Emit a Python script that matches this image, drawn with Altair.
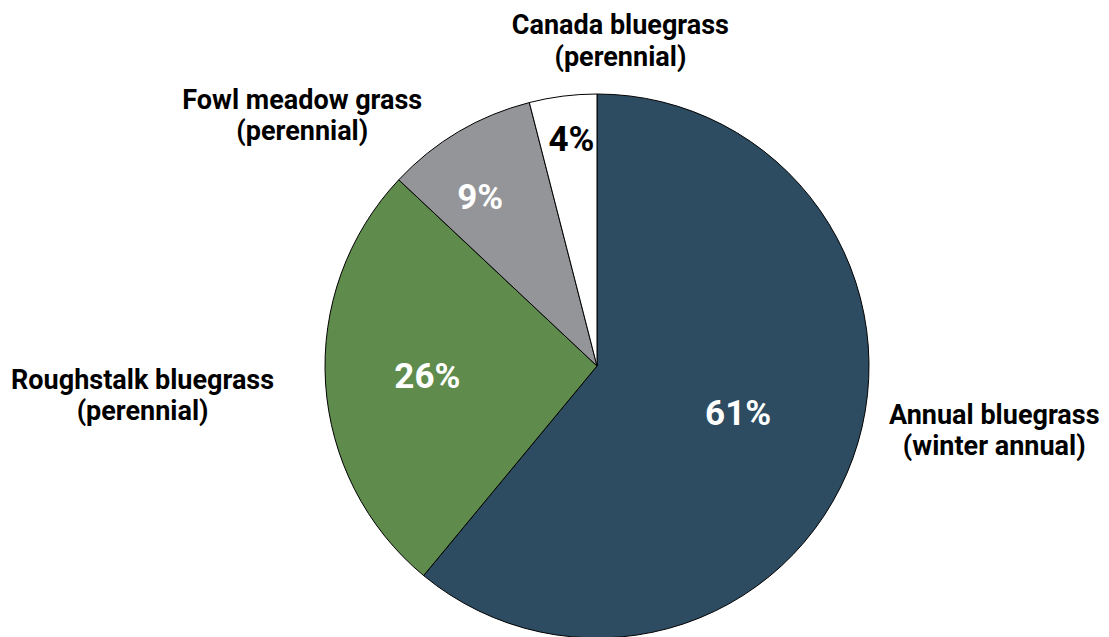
import altair as alt
import pandas as pd

categories = ["Annual bluegrass", "Roughstalk bluegrass", "Fowl meadow grass", "Canada bluegrass"]
subtitles = ["(winter annual)", "(perennial)", "(perennial)", "(perennial)"]
values = [61, 26, 9, 4]
colors = ["#2d4c62", "#5f8b4c", "#939598", "#ffffff"]
pct_colors = ["#ffffff", "#ffffff", "#ffffff", "#000000"]

df = pd.DataFrame({
    "category": categories,
    "sub": subtitles,
    "value": values,
    "idx": list(range(len(categories))),
    "pct_color": pct_colors,
})

CX, CY, R = 589, 358, 272
FONT = "Roboto"

base = alt.Chart(df)

arc = base.mark_arc(stroke="#000000", strokeWidth=1, radius=R).encode(
    theta=alt.Theta("value:Q", stack=True),
    order=alt.Order("idx:Q"),
    color=alt.Color("category:N", scale=alt.Scale(domain=categories, range=colors), legend=None),
    x=alt.value(CX),
    y=alt.value(CY),
)

mid = base.transform_window(
    cum="sum(value)", sort=[alt.SortField("idx")], frame=[None, 0]
).transform_calculate(
    mid="datum.cum - datum.value / 2",
    pct="datum.value + '%'",
    lines="[datum.category, datum.sub]",
)

theta_mid = alt.Theta("mid:Q", stack=False, scale=alt.Scale(domain=[0, 100], range=[0, 6.283185307179586]))

# label placement styles: (pct radius, pct dx, pct dy, outer radius, outer dx, outer dy)
style = {
    "Annual bluegrass": (150, 0, -3, 300, 115, -52),
    "Roughstalk bluegrass": (170, 0, 0, 300, -155, -4),
    "Fowl meadow grass": (206, -12, 9, 300, -142, -7),
    "Canada bluegrass": (228, 3, 0, 300, 61, -42),
}

layers = [arc]
for cat in categories:
    pr, pdx, pdy, orad, odx, ody = style[cat]
    sub = mid.transform_filter(alt.datum.category == cat)
    layers.append(
        sub.mark_text(radius=pr, dx=pdx, dy=pdy, font=FONT, fontWeight="bold", fontSize=35,
                      align="center", baseline="middle").encode(
            theta=theta_mid,
            text=alt.Text("pct:N"),
            color=alt.Color("pct_color:N", scale=None),
            x=alt.value(CX), y=alt.value(CY),
        )
    )
    layers.append(
        sub.mark_text(radius=orad, dx=odx, dy=ody, font=FONT, fontWeight="bold", fontSize=27,
                      lineHeight=31.5, align="center", baseline="middle", color="#000000").encode(
            theta=theta_mid,
            text=alt.Text("lines:N"),
            x=alt.value(CX), y=alt.value(CY),
        )
    )

chart = alt.layer(*layers).properties(
    width=1093, height=629,
    autosize=alt.AutoSizeParams(type="none"),
    padding=0,
    background="#ffffff",
).configure_view(stroke=None)

chart.save("out.html", embed_options={"renderer": "svg", "actions": False})
